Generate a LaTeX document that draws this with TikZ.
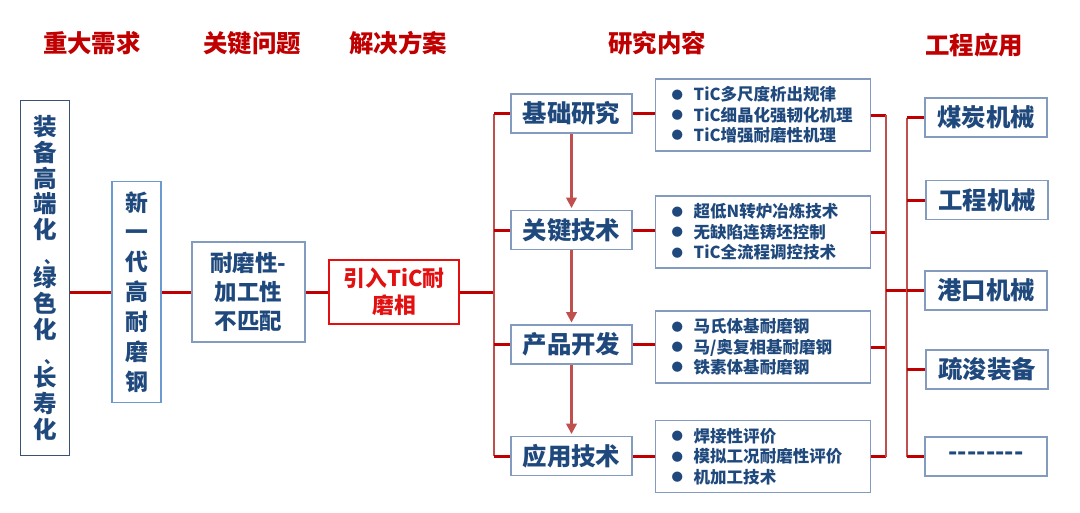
\documentclass[tikz,border=0pt]{standalone}
\usepackage{fontspec}
\setmainfont{Noto Sans CJK SC}
\usetikzlibrary{arrows.meta}

\definecolor{headred}{RGB}{192,0,0}
\definecolor{solred}{RGB}{226,16,16}
\definecolor{trunkred}{RGB}{192,80,77}
\definecolor{textblue}{RGB}{31,73,125}
\definecolor{boxgray}{RGB}{132,155,192}
\definecolor{needblue}{RGB}{58,83,115}
\definecolor{steelblue}{RGB}{106,154,208}

\newcommand\bul{\makebox[0.44cm][l]{\raisebox{0.1em}{\fontsize{6.5}{6.5}\selectfont ●}}}
\newcommand\pause{{\fontsize{9}{9}\selectfont\hspace{0.9em}、}\\[-1.5pt]}

\begin{document}
\begin{tikzpicture}[x=0.02cm,y=-0.02cm,
    heading/.style={text=headred,font=\fontsize{13.9}{16}\selectfont\bfseries},
    box/.style={draw=boxgray,line width=0.8pt,fill=white,text=textblue,
      inner sep=0pt,align=center,font=\fontsize{13.9}{16}\selectfont\bfseries},
    topic/.style={box,minimum width=2.42cm,minimum height=0.78cm},
    detail/.style={box,anchor=west,text width=3.66cm,inner xsep=0.32cm,
      minimum height=1.44cm,align=left,font=\fontsize{9.4}{11.6}\selectfont\bfseries},
    field/.style={box,minimum width=2.44cm,minimum height=0.78cm},
    link/.style={draw=headred,line width=1.7pt},
    trunk/.style={draw=trunkred,line width=1.4pt},
    flow/.style={draw=trunkred,line width=1.4pt,-{Triangle[length=6pt,width=6pt]},shorten >=1pt}
  ]

  % frame of the slide
  \useasboundingbox (0,0) rectangle (1080,512);

  % 1. column headings
  \node[heading] (hneed)  at (92,43)  {重大需求};
  \node[heading] (hissue) at (252,43) {关键问题};
  \node[heading] (hsol)   at (398,43) {解决方案};
  \node[heading] (hwork)  at (657,43) {研究内容};
  \node[heading] (hfield) at (974,45) {工程应用};

  % 2. left chain
  \node[box,draw=needblue,line width=1pt,minimum width=0.98cm,minimum height=7.1cm,
    font=\fontsize{13.4}{14.6}\selectfont\bfseries] (need) at (45,278)
    {装\\备\\高\\端\\化\\\pause 绿\\色\\化\\\pause 长\\寿\\化};
  \node[box,draw=steelblue,minimum width=0.98cm,minimum height=4.42cm,
    font=\fontsize{13}{17}\selectfont\bfseries] (steel) at (136.5,292)
    {新\\一\\代\\高\\耐\\磨\\钢};
  \node[box,minimum width=2.26cm,minimum height=2cm,
    font=\fontsize{12.8}{16.7}\selectfont\bfseries] (issue) at (248.5,292)
    {耐磨性-\\加工性\\不匹配};
  \node[box,draw=solred,text=solred,line width=1pt,minimum width=2.6cm,minimum height=1.28cm,
    font=\fontsize{12.4}{15.3}\selectfont\bfseries] (sol) at (394,292)
    {引入TiC耐\\磨相};

  \draw[link] (steel.west) -- (steel.west -| need.east);
  \draw[link] (steel.east) -- (issue.west);
  \draw[link] (issue.east) -- (sol.west);

  % 3. research topics
  \node[topic] (base) at (571.5,113.5) {基础研究};
  \node[topic] (key)  at (571.5,230)   {关键技术};
  \node[topic] (prod) at (571.5,344.5) {产品开发};
  \node[topic] (app)  at (571.5,456)   {应用技术};

  \coordinate (tl) at (494,0);
  \draw[link] (sol.east) -- (sol.east -| tl);
  \draw[trunk] (base.west -| tl) -- (app.west -| tl);
  \foreach \n in {base,key,prod,app}
    \draw[link] (\n.west -| tl) -- (\n.west);

  \draw[flow] (base.south) -- (key.north);
  \draw[flow] (key.south) -- (prod.north);
  \draw[flow] (prod.south) -- (app.north);

  % 4. details of each topic
  \node[detail] (d1) at (655,115)
    {\bul TiC多尺度析出规律\\\bul TiC细晶化强韧化机理\\\bul TiC增强耐磨性机理};
  \node[detail] (d2) at (655,232)
    {\bul 超低N转炉冶炼技术\\\bul 无缺陷连铸坯控制\\\bul TiC全流程调控技术};
  \node[detail] (d3) at (655,347)
    {\bul 马氏体基耐磨钢\\\bul 马/奥复相基耐磨钢\\\bul 铁素体基耐磨钢};
  \node[detail] (d4) at (655,456.5)
    {\bul 焊接性评价\\\bul 模拟工况耐磨性评价\\\bul 机加工技术};

  \draw[link] (base) -- (base -| d1.west);
  \draw[link] (key)  -- (key -| d2.west);
  \draw[link] (prod) -- (prod -| d3.west);
  \draw[link] (app)  -- (app -| d4.west);

  % 5. engineering fields
  \node[field] (coal) at (986,117.5) {煤炭机械};
  \node[field] (eng)  at (987,200)   {工程机械};
  \node[field] (port) at (986,290.5) {港口机械};
  \node[field] (dred) at (987,369.5) {疏浚装备};
  \node[field] (etc)  at (986,456.5) {-{}-{}-{}-{}-{}-{}-{}-};

  \coordinate (tr) at (886,0);
  \coordinate (tf) at (907,0);
  \foreach \n in {d1,d2,d3,d4}
    \draw[link] (\n.east) -- (\n.east -| tr);
  \draw[trunk] (d1.east -| tr) -- (d4.east -| tr);
  \draw[link] (port -| tr) -- (port -| tf);
  \draw[trunk] (coal.west -| tf) -- (etc.west -| tf);
  \foreach \n in {coal,eng,port,dred,etc}
    \draw[link] (\n.west -| tf) -- (\n.west);

\end{tikzpicture}
\end{document}
